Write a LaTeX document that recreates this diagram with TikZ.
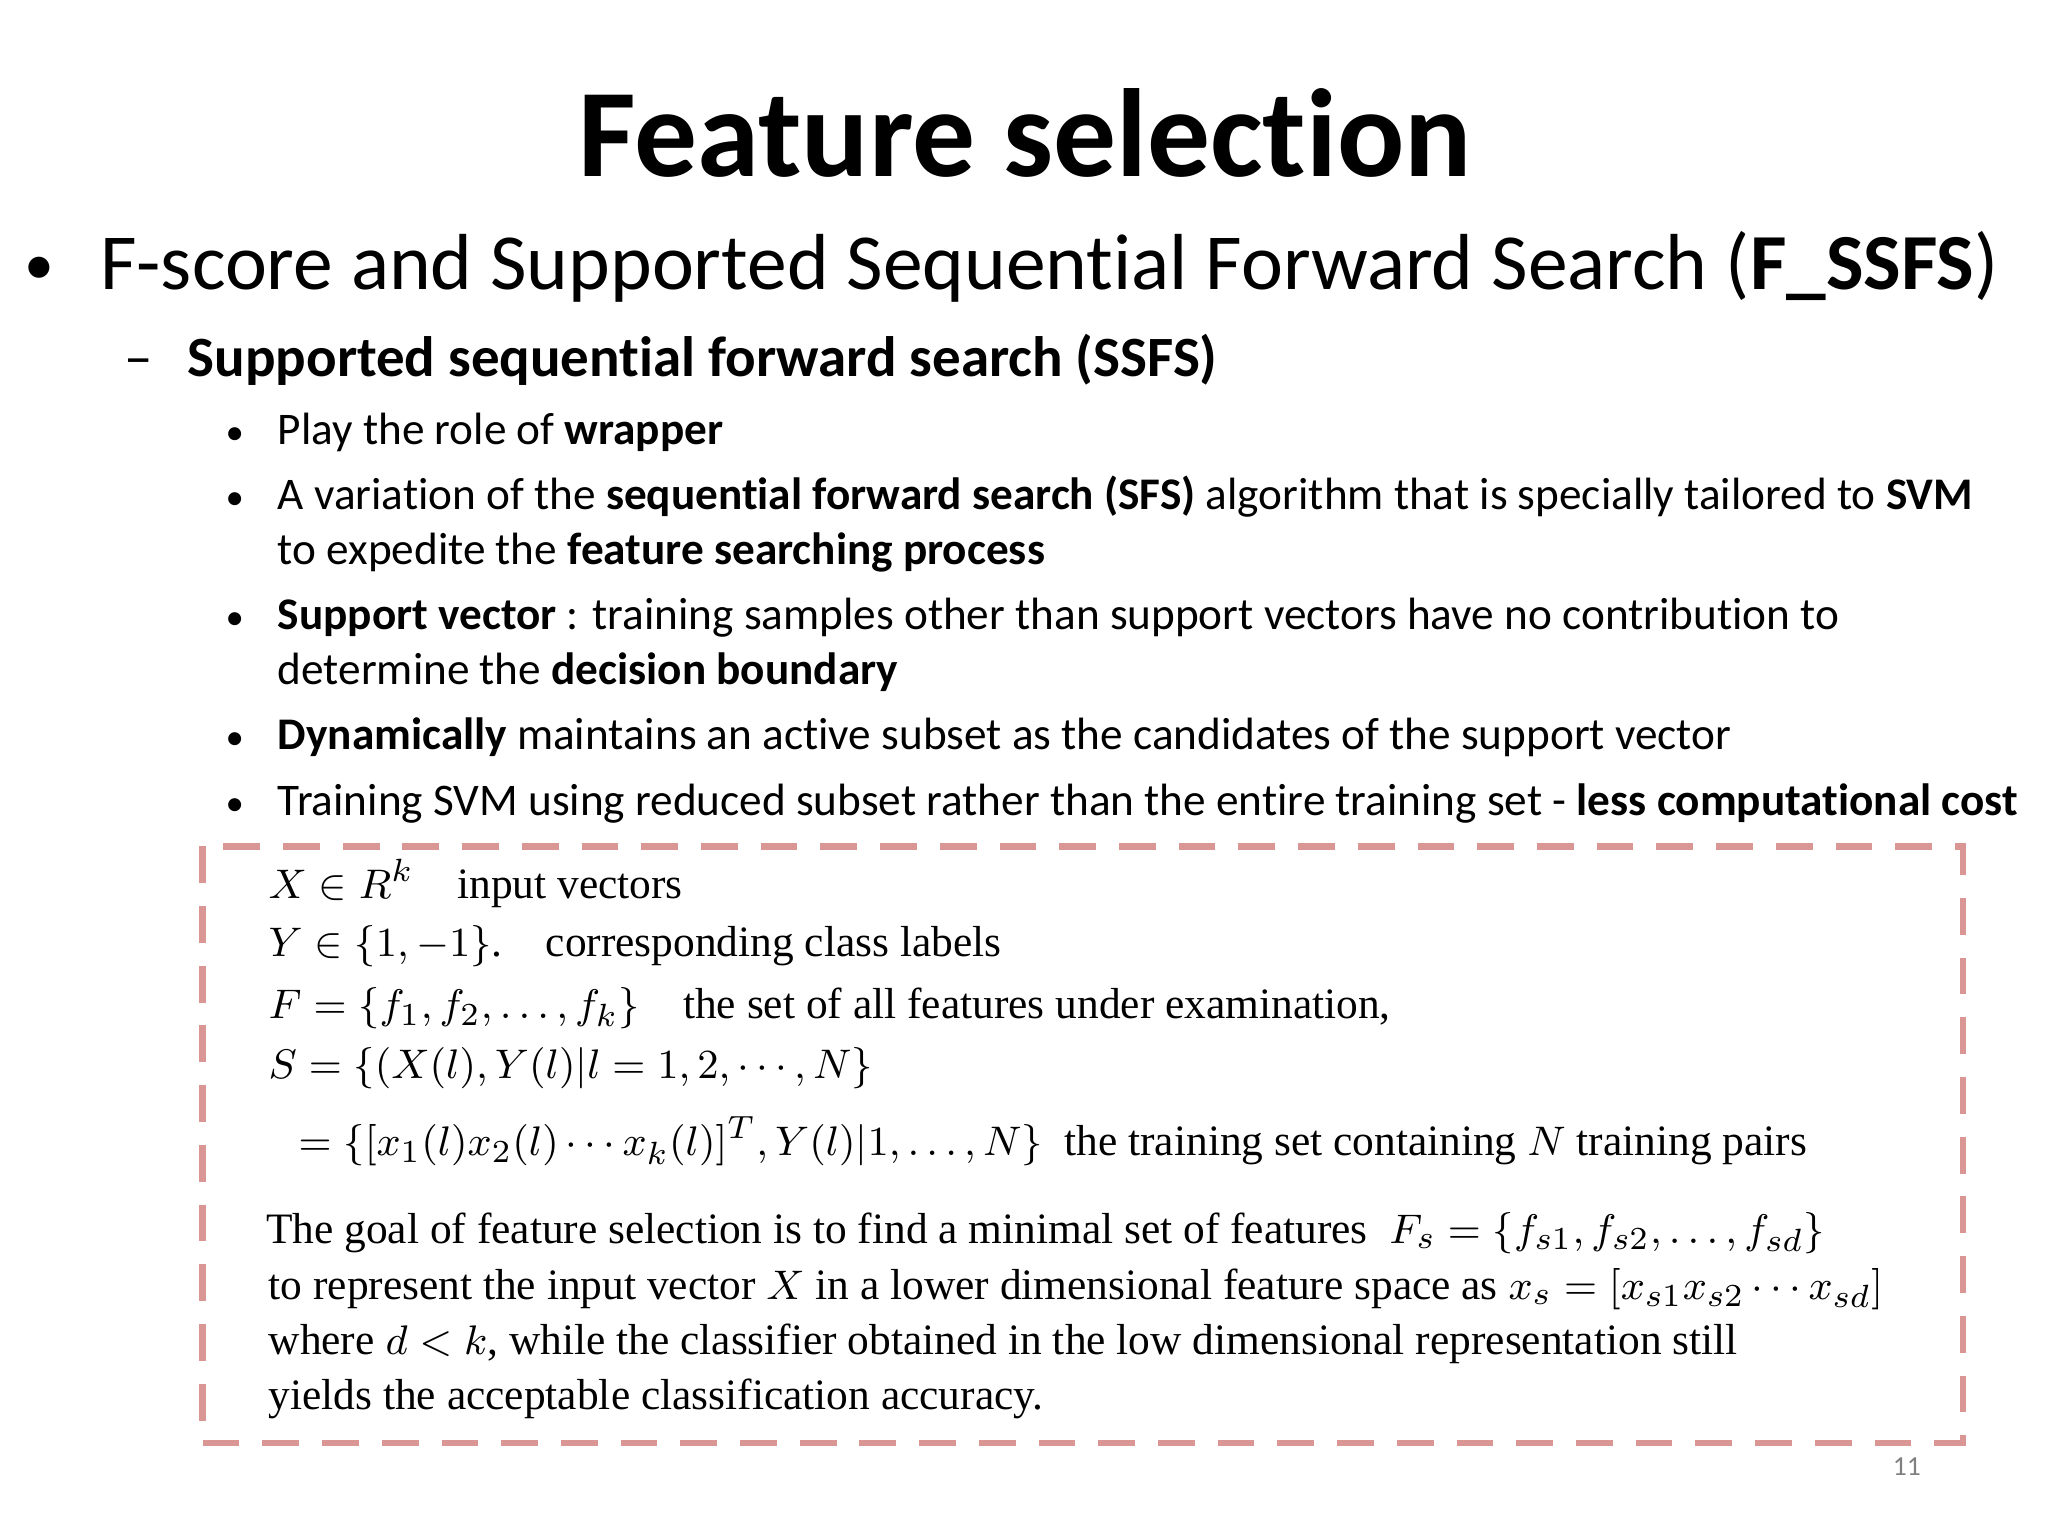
\documentclass[tikz,border=0pt]{standalone}
\usepackage{fontspec}
\setmainfont{Carlito}[Ligatures=NoCommon]
\newfontfamily\serifbox{Liberation Serif}
\begin{document}
\begin{tikzpicture}[x=0.01cm,y=-0.01cm]
\tikzset{ln/.style={anchor=base west,inner sep=0pt},
 bx/.style={ln,font=\serifbox\fontsize{9.45}{11}\selectfont},
 bl/.style={ln,font=\fontsize{9.85}{12}\selectfont}}
\useasboundingbox (0,0) rectangle (1568,1176);
\node[anchor=base,inner sep=0pt,font=\fontsize{27.3}{30}\selectfont\bfseries] (title) at (785,135) {Feature selection};
\node[ln,font=\fontsize{13}{20}\selectfont] (b0) at (18,218) {•};
\node[ln,font=\fontsize{17.3}{20}\selectfont] (t0) at (76,222) {F-score and Supported Sequential Forward Search (\textbf{F\_SSFS})};
\node[ln,font=\fontsize{12.4}{16}\selectfont] (d1) at (95,288) {–};
\node[ln,font=\fontsize{12.4}{16}\selectfont\bfseries] (t1) at (143,288) {Supported sequential forward search (SSFS)};
\foreach \y in {340,390,482,574,624}{\node[ln,font=\fontsize{8}{10}\selectfont] at (172,\y) {•};}
\node[bl] (a1) at (212,340) {Play the role of \textbf{wrapper}};
\node[bl] (a2) at (212,390) {A variation of the \textbf{sequential forward search (SFS)} algorithm that is specially tailored to \textbf{SVM}};
\node[bl] (a2b) at (212,432) {to expedite the \textbf{feature searching process}};
\node[bl] (a3) at (212,482) {\textbf{Support vector} : training samples other than support vectors have no contribution to};
\node[bl] (a3b) at (212,524) {determine the \textbf{decision boundary}};
\node[bl] (a4) at (212,574) {\textbf{Dynamically} maintains an active subset as the candidates of the support vector};
\node[bl] (a5) at (212,624) {Training SVM using reduced subset rather than the entire training set - \textbf{less computational cost}};
\draw[line width=1.4pt,color={rgb,255:red,217;green,150;blue,148},dash pattern=on 8pt off 5pt] (155,648) rectangle (1503,1105);
\node[bx] (m1) at (205,688) {$X\in R^k$\quad input vectors};
\node[bx] (m2) at (205,732) {$Y\in\{1,-1\}$.\quad corresponding class labels};
\node[bx] (m3) at (205,780) {$F=\{f_1,f_2,\ldots,f_k\}$\quad the set of all features under examination,};
\node[bx] (m4) at (205,826) {$S=\{(X(l),Y(l)|l=1,2,\cdots,N\}$};
\node[bx] (m5) at (228,885) {$=\{[x_1(l)x_2(l)\cdots x_k(l)]^T,Y(l)|1,\ldots,N\}$\ \ the training set containing $N$ training pairs};
\node[bx] (m6) at (203,952) {The goal of feature selection is to find a minimal set of features\ \ $F_s=\{f_{s1},f_{s2},\ldots,f_{sd}\}$};
\node[bx] (m7) at (205,995) {to represent the input vector $X$ in a lower dimensional feature space as $x_s=[x_{s1}x_{s2}\cdots x_{sd}]$};
\node[bx,text width=12.42cm,align=justify] (m8) at (205,1037) {where $d<k$, while the classifier obtained in the low dimensional representation still};
\node[bx] (m9) at (205,1079) {yields the acceptable classification accuracy.};
\node[anchor=base,inner sep=0pt,text=gray,font=\fontsize{6}{8}\selectfont] (pg) at (1460,1130) {11};
\end{tikzpicture}
\end{document}
